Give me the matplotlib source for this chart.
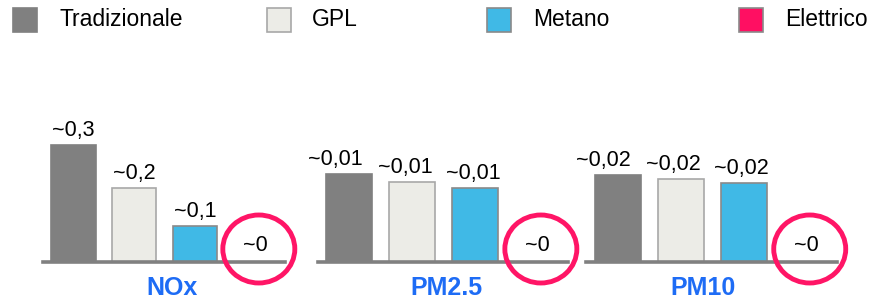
import matplotlib
matplotlib.use("Agg")
import matplotlib.pyplot as plt
import matplotlib.transforms as mtransforms
from matplotlib.patches import Rectangle, Ellipse

plt.rcParams['font.family'] = ['Liberation Sans', 'DejaVu Sans']

# ---- data ----
series = ["Tradizionale", "GPL", "Metano", "Elettrico"]
pollutants = ["NOx", "PM2.5", "PM10"]
values = {
    "NOx":   [0.30, 0.19, 0.092, 0.0],
    "PM2.5": [0.0120, 0.0109, 0.0101, 0.0],
    "PM10":  [0.0220, 0.0210, 0.0200, 0.0],
}
value_labels = {
    "NOx":   ["~0,3", "~0,2", "~0,1", "~0"],
    "PM2.5": ["~0,01", "~0,01", "~0,01", "~0"],
    "PM10":  ["~0,02", "~0,02", "~0,02", "~0"],
}

# ---- styles / layout ----
fill_colors = ["#808080", "#ECECE7", "#40B9E6", "#FF0F62"]
edge_colors = ["#808080", "#A8A8A8", "#8A8A8A", "#8A8A8A"]
circle_color = "#FF1566"
cat_color = "#1E6CF5"
W, H = 871, 304
axes_px = {"NOx": (43, 285), "PM2.5": (318, 568), "PM10": (586, 837)}
ylims = {"NOx": 0.415, "PM2.5": 0.0221, "PM10": 0.041}
cat_x = {"NOx": 1.62, "PM2.5": 1.54, "PM10": 1.35}
label_dx_px = {"NOx": [0, 0, 0], "PM2.5": [-14, -7, -2], "PM10": [-14, -7, -2]}
base_px, top_px = 262, 100

fig = plt.figure(figsize=(W / 100, H / 100), dpi=100)

for p in pollutants:
    x0, x1 = axes_px[p]
    ax = fig.add_axes([x0 / W, (H - base_px) / H, (x1 - x0) / W, (base_px - top_px) / H])
    ax.set_xlim(-0.5, 3.48)
    ax.set_ylim(0, ylims[p])
    vals = values[p]
    for i, v in enumerate(vals[:3]):
        ax.bar(i, v, width=0.73, color=fill_colors[i], edgecolor=edge_colors[i],
               linewidth=1.2, zorder=2)
        ax.annotate(value_labels[p][i], xy=(i, v), xytext=(label_dx_px[p][i] * 0.72, 3),
                    textcoords="offset points",
                    ha="center", va="bottom", fontsize=15.5, color="#000000")
    # Elettrico ~0
    ax.annotate(value_labels[p][3], xy=(3, vals[3]), xytext=(0, 12), textcoords="offset points",
                ha="center", va="center", fontsize=15.5, color="#000000")
    tr = mtransforms.IdentityTransform() + mtransforms.ScaledTranslation(3, vals[3], ax.transData)
    ell = Ellipse((3, 13), 72, 68, transform=tr, fill=False, edgecolor=circle_color,
                  linewidth=3.5, clip_on=False, zorder=5)
    ax.add_artist(ell)
    for s in ["top", "right", "left"]:
        ax.spines[s].set_visible(False)
    ax.spines["bottom"].set_color("#808080")
    ax.spines["bottom"].set_linewidth(2.6)
    ax.spines["bottom"].set_zorder(3)
    ax.set_xticks([])
    ax.set_yticks([])
    ax.patch.set_alpha(0)
    ax.annotate(p, xy=(cat_x[p], 0), xytext=(0, -19), textcoords="offset points",
                ha="center", va="center", fontsize=18, fontweight="bold", color=cat_color,
                annotation_clip=False)

# ---- legend ----
sq_x = [13, 267, 487, 739]
tx_x = [60, 312, 533, 785]
for i, name in enumerate(series):
    fig.add_artist(Rectangle((sq_x[i] / W, (H - 32) / H), 24 / W, 24 / H,
                             transform=fig.transFigure, facecolor=fill_colors[i],
                             edgecolor=edge_colors[i] if i else fill_colors[i], linewidth=1.2))
    fig.text(tx_x[i] / W, (H - 20) / H, name, ha="left", va="center", fontsize=16.5, color="#000000")

fig.savefig("out.png", dpi=100)
